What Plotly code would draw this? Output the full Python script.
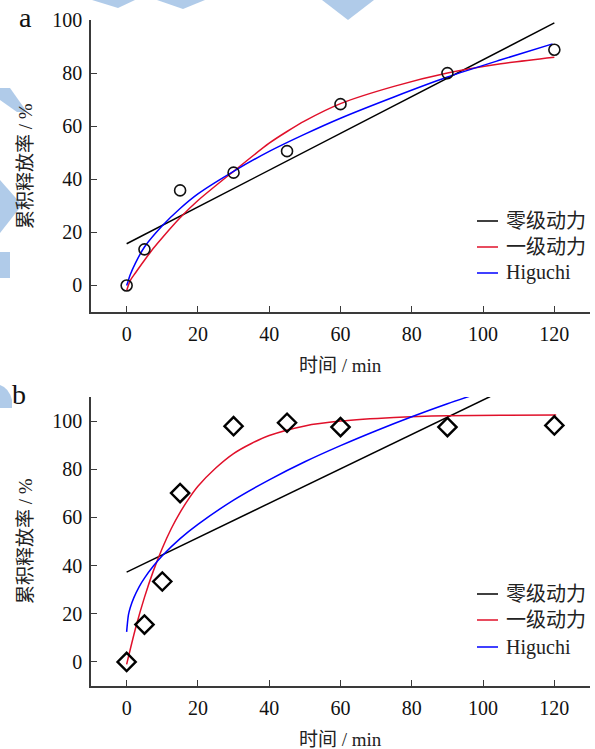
import plotly.graph_objects as go

# ---------------- data: panel a ----------------
a_t = [0, 5, 15, 30, 45, 60, 90, 120]
a_rel = [0, 13.6, 35.8, 42.5, 50.6, 68.3, 80, 88.8]

a_zero_t = [0, 120]
a_zero_y = [15.7, 98.9]

a_first_t = [0, 1, 2.5, 5, 7.5, 10, 15, 20, 30, 40, 45, 50, 60, 75, 90, 105, 120]
a_first_y = [-2, 1.8, 4.8, 9.5, 14, 18, 25.5, 32, 43, 53.6, 58, 62, 68.5, 75, 80, 83.5, 86]

a_hig_t = [0, 0.5, 1, 2.5, 5, 10, 15, 20, 30, 40, 50, 60, 75, 90, 105, 119.5]
a_hig_y = [0, 2, 4, 8.5, 14.5, 22.5, 29, 34.5, 43, 50.5, 57, 63, 71, 78.5, 85, 91]

# ---------------- data: panel b ----------------
b_t = [0, 5, 10, 15, 30, 45, 60, 90, 120]
b_rel = [0, 15.5, 33.4, 70.1, 97.9, 99.3, 97.5, 97.5, 98.2]

b_zero_t = [0, 102]
b_zero_y = [37.3, 110.2]

b_first_t = [0, 2.5, 5, 7.5, 10, 12.5, 15, 17.5, 20, 25, 30, 35, 40, 50, 60, 75, 90, 105, 120.5]
b_first_y = [-1, 14, 26.8, 37.8, 47.2, 55.3, 62.1, 67.9, 72.9, 80.5, 86.5, 90.7, 94, 98, 100, 101.5, 102.2, 102.4, 102.5]

b_hig_t = [0, 0.5, 1, 2, 3.5, 5, 7.5, 10, 15, 20, 30, 40, 50, 60, 70, 80, 90, 97.6]
b_hig_y = [12.5, 19.5, 22.5, 26.6, 31.2, 34.8, 39.8, 44.1, 51.2, 57.1, 67.2, 75.6, 83.1, 89.8, 96, 101.8, 107.2, 111]

x_ticks = [0, 20, 40, 60, 80, 100, 120]
a_yticks = [0, 20, 40, 60, 80, 100]
b_yticks = [0, 20, 40, 60, 80, 100]

names = ["零级动力", "一级动力", "Higuchi"]
colors = ["#000000", "#e0102a", "#0000ff"]

x_title = "时间 / min"
y_title = "累积释放率 / %"

FONT = "Liberation Serif, 'Times New Roman', 'Noto Sans CJK SC', serif"
W, H = 595, 749

fig = go.Figure()

def add_panel(xa, ya, t, rel, marker, zt, zy, ft, fy, ht, hy):
    fig.add_trace(go.Scatter(x=zt, y=zy, mode="lines", name=names[0], showlegend=False,
                             line=dict(color=colors[0], width=1.5),
                             xaxis=xa, yaxis=ya))
    fig.add_trace(go.Scatter(x=ft, y=fy, mode="lines", name=names[1], showlegend=False,
                             line=dict(color=colors[1], width=1.5, shape="spline", smoothing=0.8),
                             xaxis=xa, yaxis=ya))
    fig.add_trace(go.Scatter(x=ht, y=hy, mode="lines", name=names[2], showlegend=False,
                             line=dict(color=colors[2], width=1.5, shape="spline", smoothing=0.8),
                             xaxis=xa, yaxis=ya))
    fig.add_trace(go.Scatter(x=t, y=rel, mode="markers", showlegend=False, name="实测",
                             marker=marker, xaxis=xa, yaxis=ya))

add_panel("x", "y", a_t, a_rel,
          dict(symbol="circle-open", size=11, color="#111", line=dict(width=1.6)),
          a_zero_t, a_zero_y, a_first_t, a_first_y, a_hig_t, a_hig_y)
add_panel("x2", "y2", b_t, b_rel,
          dict(symbol="diamond-open", size=14, color="#000", line=dict(width=2.4)),
          b_zero_t, b_zero_y, b_first_t, b_first_y, b_hig_t, b_hig_y)

xd = [91 / W, 590 / W]
ya_dom = [1 - 312 / H, 1 - 20 / H]
yb_dom = [1 - 686 / H, 1 - 397 / H]

axis_common = dict(showline=True, linecolor="#3a3a3a", linewidth=1.5,
                   ticks="inside", ticklen=6, tickwidth=1.3, tickcolor="#3a3a3a",
                   showgrid=False, zeroline=False, automargin=False,
                   ticklabelstandoff=3,
                   tickfont=dict(family=FONT, size=20, color="#111"))

fig.update_layout(
    width=W, height=H, margin=dict(l=0, r=0, t=0, b=0, autoexpand=False),
    plot_bgcolor="white", paper_bgcolor="white", showlegend=False,
    font=dict(family=FONT, color="#111"),
    xaxis=dict(domain=xd, anchor="y", range=[-10, 130], tickvals=x_ticks, **axis_common),
    yaxis=dict(domain=ya_dom, anchor="x", range=[-10, 100], tickvals=a_yticks, **axis_common),
    xaxis2=dict(domain=xd, anchor="y2", range=[-10, 130], tickvals=x_ticks, **axis_common),
    yaxis2=dict(domain=yb_dom, anchor="x2", range=[-10, 110], tickvals=b_yticks, **axis_common),
)

def ann(text, px, py, size, angle=0, xanchor="center", color="#222"):
    fig.add_annotation(text=text, x=px / W, y=1 - py / H, xref="paper", yref="paper",
                       showarrow=False, textangle=angle,
                       xanchor=xanchor, yanchor="middle",
                       font=dict(family=FONT, size=size, color=color))

# axis titles
ann(x_title, 340.5, 365, 19)
ann(x_title, 340.5, 739, 19)
ann(y_title, 25, 166, 19, -90)
ann(y_title, 25, 541, 19, -90)

# panel letters
ann("a", 25, 18, 28, color="#111")
ann("b", 19, 394, 28, color="#111")

# legends (one per panel)
for rows in ([221, 247, 273], [594, 620, 647]):
    for name, col, ry in zip(names, colors, rows):
        fig.add_shape(type="line", xref="paper", yref="paper",
                      x0=477 / W, x1=498 / W, y0=1 - ry / H, y1=1 - ry / H,
                      line=dict(color=col, width=1.5))
        ann(name, 504, ry, 20, xanchor="left")

# light-blue watermark fragments (background decoration), pixel coords
wm = "rgba(150,185,225,0.75)"
paths = [
    "M 92 0 L 135 0 L 118 8 Z",
    "M 157 0 L 205 0 L 183 9 Z",
    "M 322 0 L 374 0 L 348 20 Z",
    "M 0 88 L 10 88 L 27 112 L 17 112 L 0 100 Z",
    "M 0 180 L 22 205 L 0 233 Z",
    "M 0 252 L 10 252 L 10 278 L 0 278 Z",
    "M 0 385 Q 9 388 12 400 L 12 408 L 0 408 Z",
]

def to_paper(p):
    toks = p.split()
    out = []
    i = 0
    while i < len(toks):
        tk = toks[i]
        if tk.isalpha():
            out.append(tk)
            i += 1
        else:
            xv = float(toks[i]) / W
            yv = 1 - float(toks[i + 1]) / H
            out.append(f"{xv:.5f},{yv:.5f}")
            i += 2
    return " ".join(out)

for p in paths:
    fig.add_shape(type="path", path=to_paper(p), xref="paper", yref="paper",
                  fillcolor=wm, line=dict(width=0), layer="below")

fig.write_html("out.html", config={"displayModeBar": False},
               post_script="document.body.style.margin='0';document.body.style.overflow='hidden';")
